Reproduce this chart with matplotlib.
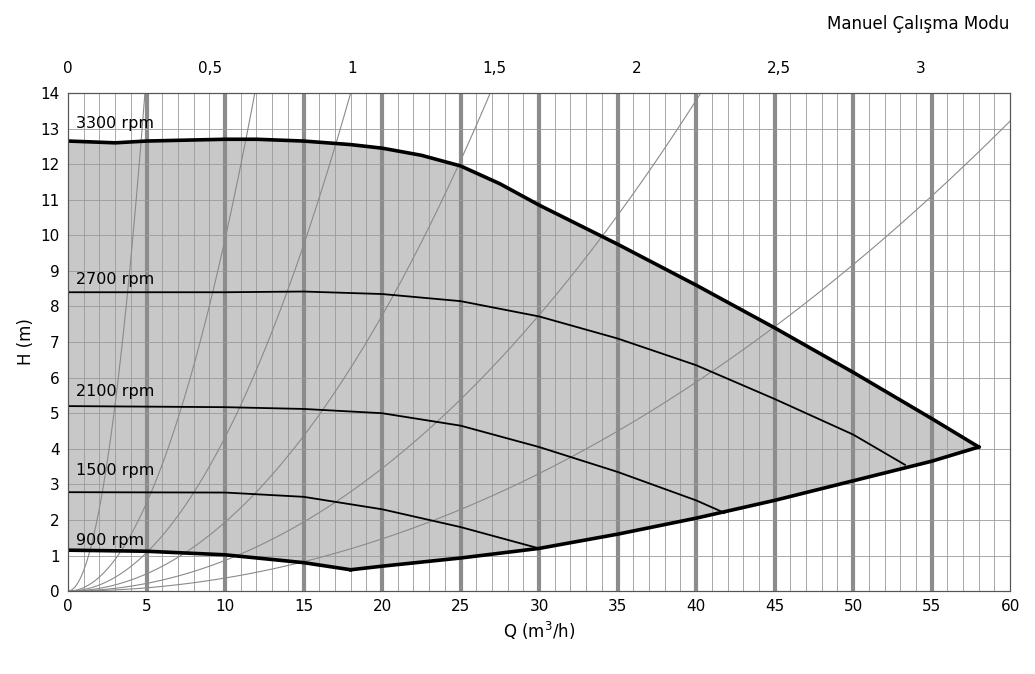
import numpy as np
import matplotlib
matplotlib.use("Agg")
import matplotlib.pyplot as plt

q3300 = [0, 3, 5, 8, 10, 12, 15, 18, 20, 22.5, 25, 27.5, 30, 32.5, 35, 40, 45, 50, 55, 58]
h3300 = [12.65, 12.6, 12.65, 12.68, 12.7, 12.7, 12.65, 12.55, 12.45, 12.25, 11.95, 11.45, 10.85, 10.3, 9.75, 8.6, 7.4, 6.15, 4.85, 4.05]
q2700 = [0, 10, 15, 20, 25, 30, 35, 40, 45, 50, 53.3]
h2700 = [8.4, 8.4, 8.42, 8.35, 8.15, 7.72, 7.1, 6.35, 5.4, 4.4, 3.55]
q2100 = [0, 10, 15, 20, 25, 30, 35, 40, 41.8]
h2100 = [5.2, 5.17, 5.12, 5.0, 4.65, 4.05, 3.35, 2.55, 2.2]
q1500 = [0, 10, 15, 20, 25, 30]
h1500 = [2.78, 2.77, 2.65, 2.3, 1.8, 1.2]
q900 = [0, 5, 10, 15, 18]
h900 = [1.15, 1.12, 1.02, 0.8, 0.6]
qmin = [18, 20, 25, 30, 35, 40, 45, 50, 55, 58]
hmin = [0.6, 0.7, 0.93, 1.2, 1.6, 2.05, 2.55, 3.1, 3.65, 4.05]
system_k = [0.583, 0.0989, 0.0432, 0.01936, 0.00862, 0.00367]
labels = ["3300 rpm", "2700 rpm", "2100 rpm", "1500 rpm", "900 rpm"]
label_h = [13.15, 8.75, 5.6, 3.4, 1.43]
top_ticks = [0, 0.5, 1, 1.5, 2, 2.5, 3]
top_labels = ["0", "0,5", "1", "1,5", "2", "2,5", "3"]

fig = plt.figure(figsize=(10.35, 6.74), dpi=100)
ax = fig.add_axes([0.0657, 0.123, 0.9103, 0.739])
ax.set_xlim(0, 60); ax.set_ylim(0, 14)

for x in range(1, 60):
    if x % 5 == 0:
        ax.axvline(x, color="#8c8c8c", lw=3, zorder=1)
    else:
        ax.axvline(x, color="#9a9a9a", lw=0.6, zorder=1)
for y in range(1, 14):
    ax.axhline(y, color="#9a9a9a", lw=0.6, zorder=1)

poly_x = [0] + list(q900) + list(qmin[1:]) + list(q3300[::-1])
poly_y = [0] + list(h900) + list(hmin[1:]) + list(h3300[::-1])
ax.fill(poly_x, poly_y, color="#c8c8c8", zorder=0.5)

qq = np.linspace(0, 60, 400)
for k in system_k:
    ax.plot(qq, k * qq**2, color="#8a8a8a", lw=0.8, zorder=2)

ax.plot(q3300, h3300, color="black", lw=2.6, zorder=3)
ax.plot(qmin, hmin, color="black", lw=2.6, zorder=3)
ax.plot(q900, h900, color="black", lw=2.6, zorder=3)
for q, h in [(q2700, h2700), (q2100, h2100), (q1500, h1500)]:
    ax.plot(q, h, color="black", lw=1.3, zorder=3)

for lab, h in zip(labels, label_h):
    ax.text(0.5, h, lab, fontsize=11.5, va="center", ha="left", zorder=4)

ax.set_xticks(range(0, 61, 5))
ax.set_yticks(range(0, 15))
ax.tick_params(labelsize=11, length=0, pad=6)
ax.set_xlabel("Q (m$^3$/h)", fontsize=12)
ax.set_ylabel("H (m)", fontsize=12)
for s in ax.spines.values():
    s.set_color("#555555")

ax2 = ax.twiny()
ax2.set_xlim(0, 60)
ax2.set_xticks([t * 18.1 for t in top_ticks])
ax2.set_xticklabels(top_labels)
ax2.tick_params(labelsize=11, length=0, pad=12)
for s in ax2.spines.values():
    s.set_color("#555555")

fig.text(0.975, 0.965, "Manuel Çalışma Modu", ha="right", va="center", fontsize=12)
fig.savefig("out.png", dpi=100)
